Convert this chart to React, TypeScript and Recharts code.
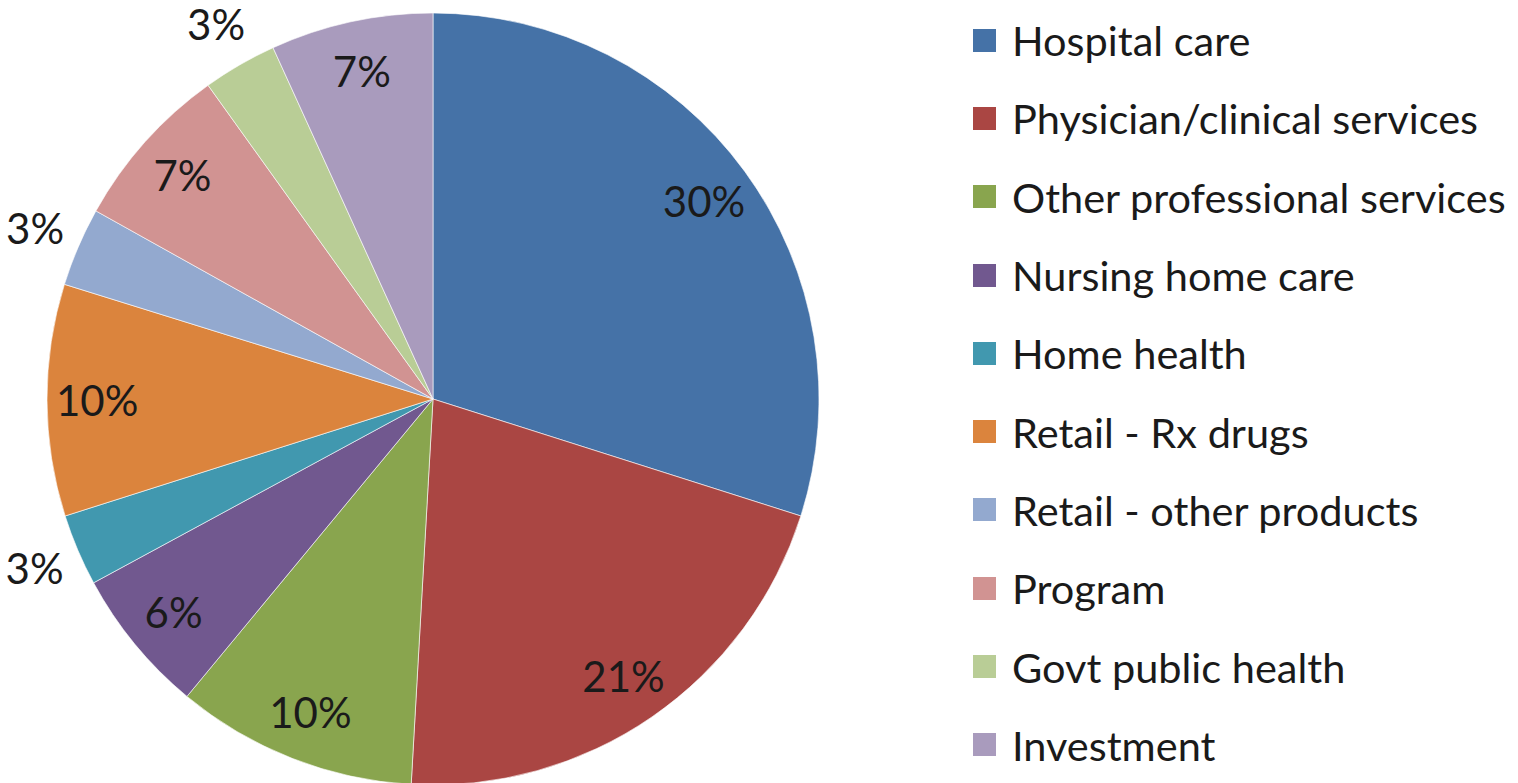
import { Cell, Legend, Pie, PieChart } from "recharts";

const categories = [
  "Hospital care",
  "Physician/clinical services",
  "Other professional services",
  "Nursing home care",
  "Home health",
  "Retail - Rx drugs",
  "Retail - other products",
  "Program",
  "Govt public health",
  "Investment",
];

// share of total spending, percent
const shares = [29.9, 21.0, 10.1, 6.1, 3.0, 9.7, 3.3, 7.0, 3.1, 6.8];

const colors = [
  "#4572A7",
  "#AA4643",
  "#89A54E",
  "#71588F",
  "#4198AF",
  "#DB843D",
  "#93A9CF",
  "#D19392",
  "#B9CD96",
  "#A99BBD",
];

const data = categories.map((name, i) => ({ name, value: shares[i] }));

const FONT = "Lato, 'Open Sans', sans-serif";
const RADIAN = Math.PI / 180;

function renderLabel(props: any) {
  const { cx, cy, midAngle, outerRadius, value } = props;
  // small slices get their label outside the pie
  const r = value < 5 ? outerRadius + 47 : outerRadius * 0.87;
  const x = cx + r * Math.cos(-midAngle * RADIAN);
  const y = cy + r * Math.sin(-midAngle * RADIAN);
  return (
    <text
      x={x}
      y={y}
      fill="#1a1a1a"
      fontSize={42}
      fontFamily={FONT}
      textAnchor="middle"
      dominantBaseline="central"
    >
      {`${Math.round(value)}%`}
    </text>
  );
}

function LegendList() {
  return (
    <div style={{ fontFamily: FONT, fontSize: 41.5, color: "#1a1a1a" }}>
      {data.map((d, i) => (
        <div
          key={d.name}
          style={{ display: "flex", alignItems: "center", height: 78.3 }}
        >
          <div
            style={{
              width: 23,
              height: 23,
              background: colors[i],
              marginRight: 16,
            }}
          />
          <span style={{ whiteSpace: "nowrap" }}>{d.name}</span>
        </div>
      ))}
    </div>
  );
}

export default function App() {
  return (
    <div
      style={{
        position: "absolute",
        left: 0,
        top: 0,
        width: 1518,
        height: 783,
        background: "#fff",
      }}
    >
      <PieChart
        width={1518}
        height={783}
        margin={{ top: 0, right: 0, bottom: 0, left: 0 }}
      >
        <Pie
          data={data}
          dataKey="value"
          nameKey="name"
          cx={433}
          cy={399}
          outerRadius={386}
          startAngle={90}
          endAngle={-270}
          stroke="rgba(255,255,255,0.6)"
          strokeWidth={1}
          label={renderLabel}
          labelLine={false}
          isAnimationActive={false}
        >
          {data.map((d, i) => (
            <Cell key={d.name} fill={colors[i]} />
          ))}
        </Pie>
        <Legend
          content={<LegendList />}
          wrapperStyle={{ left: 973, top: 1, width: 545 }}
        />
      </PieChart>
    </div>
  );
}
